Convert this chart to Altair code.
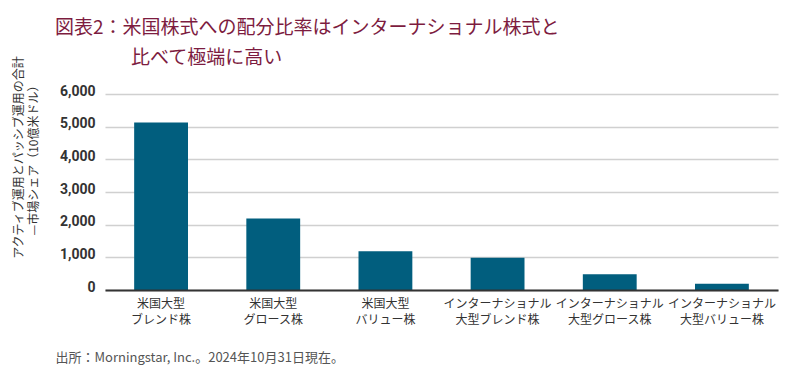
import altair as alt
import pandas as pd

categories = [
    "米国大型\nブレンド株",
    "米国大型\nグロース株",
    "米国大型\nバリュー株",
    "インターナショナル\n大型ブレンド株",
    "インターナショナル\n大型グロース株",
    "インターナショナル\n大型バリュー株",
]
values = [5130, 2190, 1190, 990, 480, 190]
y_ticks = [0, 1000, 2000, 3000, 4000, 5000, 6000]

title_lines = [
    "図表2：米国株式への配分比率はインターナショナル株式と",
    "\u200b　　　　比べて極端に高い",
]
y_title = ["アクティブ運用とパッシブ運用の合計", "—市場シェア（10億米ドル）"]
source = "出所：Morningstar, Inc.。2024年10月31日現在。"

df = pd.DataFrame({"cat": categories, "val": values})

JP = "Noto Sans CJK JP"

chart = (
    alt.Chart(df)
    .mark_bar(color="#015e7e")
    .encode(
        x=alt.X(
            "cat:N",
            sort=None,
            scale=alt.Scale(paddingInner=0.52, paddingOuter=0.26),
            axis=alt.Axis(
                title=source,
                titleFont=JP,
                titleFontSize=13,
                titleFontWeight="normal",
                titleColor="#555555",
                titleX=-50,
                titleY=67,
                titleAlign="left",
                titleBaseline="middle",
                labelExpr="split(datum.label, '\\n')",
                labelFont=JP,
                labelFontSize=12,
                labelLineHeight=16,
                labelColor="#333333",
                labelAngle=0,
                labelPadding=8,
                labelOverlap=False,
                ticks=False,
                domainColor="#333333",
                domainWidth=2,
                zindex=1,
            ),
        ),
        y=alt.Y(
            "val:Q",
            scale=alt.Scale(domain=[0, 6000], nice=False),
            axis=alt.Axis(
                values=y_ticks,
                format=",.0f",
                title=y_title,
                titleFont=JP,
                titleFontSize=12,
                titleFontWeight="normal",
                titleColor="#333333",
                titleLineHeight=15,
                titleX=-87,
                titleY=63,
                titleAlign="center",
                titleBaseline="middle",
                titleAngle=270,
                labelFont="Roboto",
                labelFontWeight="bold",
                labelFontSize=14,
                labelColor="#333333",
                labelPadding=10,
                labelOffset=-3,
                domain=False,
                ticks=False,
                gridColor="#d0d0d0",
                gridWidth=1.3,
            ),
        ),
    )
    .properties(
        width=673,
        height=196,
        autosize=alt.AutoSizeParams(type="none"),
        padding={"left": 97, "top": 86, "right": 14, "bottom": 86},
        title=alt.TitleParams(
            text=title_lines,
            anchor="start",
            frame="group",
            font=JP,
            fontSize=19,
            fontWeight="normal",
            color="#7d1c3f",
            lineHeight=30,
            baseline="top",
            dx=-50,
            offset=0,
            dy=13,
        ),
    )
    .configure_view(stroke=None)
)

chart.save("out.html", embed_options={"renderer": "svg", "actions": False})
